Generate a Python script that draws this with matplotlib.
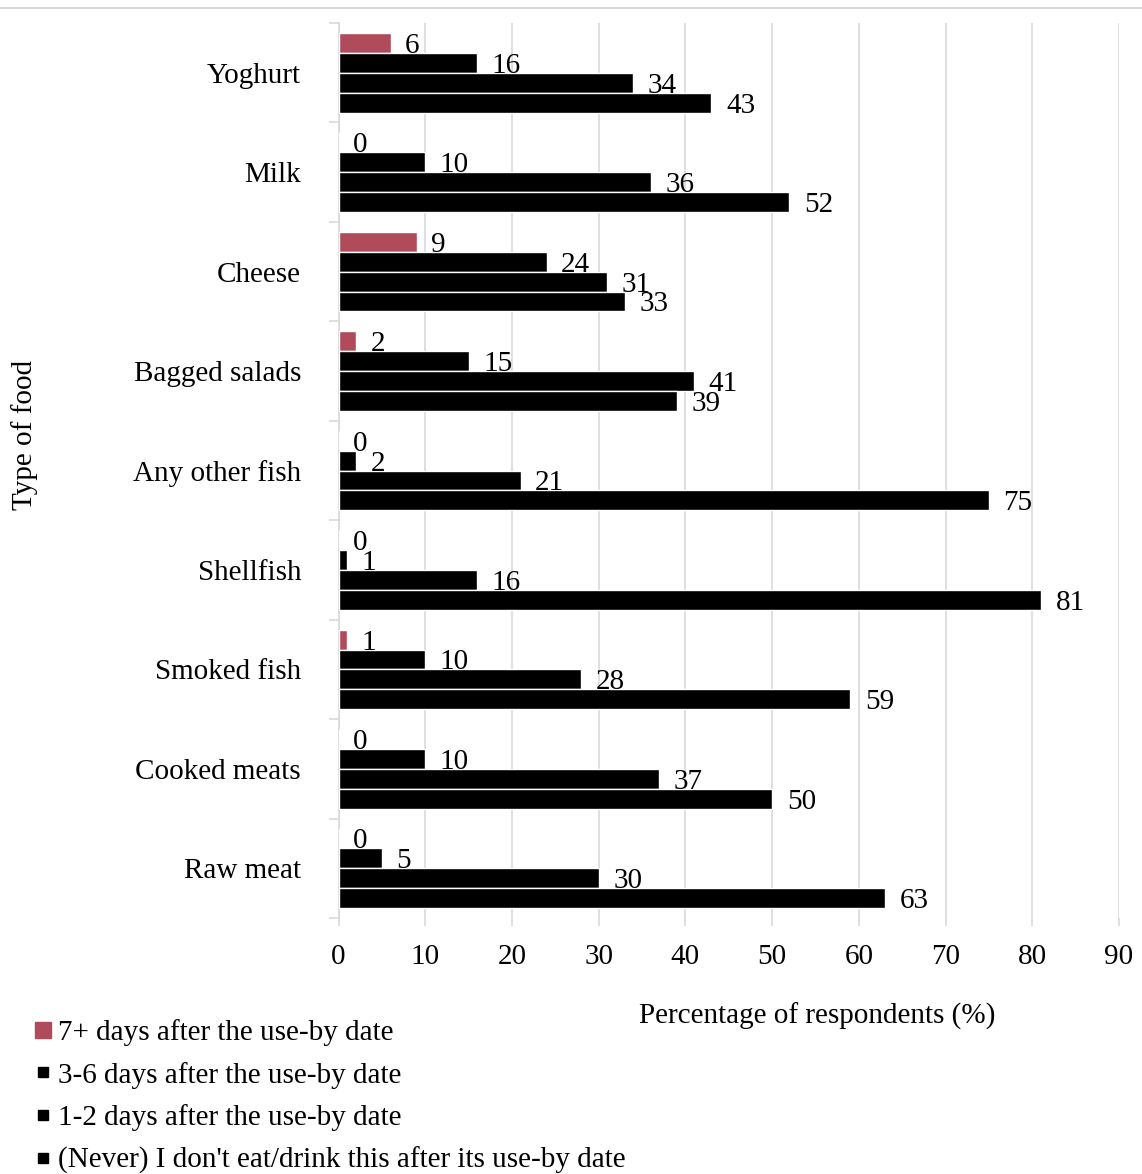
import matplotlib
matplotlib.use("Agg")
import matplotlib.pyplot as plt
from matplotlib.lines import Line2D
import numpy as np

plt.rcParams['font.family'] = ['Liberation Serif', 'DejaVu Serif']
plt.rcParams['font.size'] = 21

foods = ["Yoghurt", "Milk", "Cheese", "Bagged salads", "Any other fish",
         "Shellfish", "Smoked fish", "Cooked meats", "Raw meat"]

series_labels = ["7+ days after the use-by date",
                 "3-6 days after the use-by date",
                 "1-2 days after the use-by date",
                 "(Never) I don't eat/drink this after its use-by date"]

days_7plus = [6, 0, 9, 2, 0, 0, 1, 0, 0]
days_3to6 = [16, 10, 24, 15, 2, 1, 10, 10, 5]
days_1to2 = [34, 36, 31, 41, 21, 16, 28, 37, 30]
never = [43, 52, 33, 39, 75, 81, 59, 50, 63]

x_ticks = [0, 10, 20, 30, 40, 50, 60, 70, 80, 90]

series = [days_7plus, days_3to6, days_1to2, never]
colors = ["#B04B5B", "#000000", "#000000", "#000000"]
grid_col = "#D9D9D9"

W, H = 1142, 1174
fig = plt.figure(figsize=(W / 100, H / 100), dpi=100)
ax = fig.add_axes([338.5 / W, 1 - 918 / H, (1119 - 338.5) / W, (918 - 23) / H])

centers = np.arange(len(foods))
bar_h = 0.2
for j, (vals, col) in enumerate(zip(series, colors)):
    ypos = centers + (j - 1.5) * bar_h
    ax.barh(ypos, vals, height=bar_h, color=col, edgecolor="white",
            linewidth=1.0, zorder=3)
    for y, v in zip(ypos, vals):
        ax.annotate(str(v), xy=(v, y), xytext=(10.5, 0),
                    textcoords="offset points", ha="left",
                    va="center_baseline", fontsize=21, zorder=4)

ax.set_xlim(0, 90)
ax.set_ylim(len(foods) - 0.5, -0.5)
ax.set_xticks(x_ticks)
ax.set_xticklabels([str(t) for t in x_ticks])
ax.tick_params(axis="x", length=6, width=1.2, color=grid_col, pad=13)

ax.set_yticks(centers)
ax.set_yticklabels(foods)
ax.tick_params(axis="y", which="major", length=0, pad=27)
ax.set_yticks(np.arange(len(foods) + 1) - 0.5, minor=True)
ax.tick_params(axis="y", which="minor", length=7, width=1.2, color=grid_col)

ax.xaxis.grid(True, color=grid_col, linewidth=1.2, zorder=0)
ax.set_axisbelow(True)
for s in ["top", "right", "bottom"]:
    ax.spines[s].set_visible(False)
ax.spines["left"].set_color(grid_col)
ax.spines["left"].set_linewidth(1.2)

fig.text(817 / W, 1 - 1016 / H, "Percentage of respondents (%)",
         ha="center", va="center", fontsize=21)
fig.text(25 / W, 1 - 435 / H, "Type of food", rotation=90,
         ha="center", va="center", fontsize=21)

# thin rule along the top of the figure
fig.add_artist(Line2D([0, 1], [1 - 8 / H, 1 - 8 / H], color=grid_col,
                      linewidth=1.5, transform=fig.transFigure))

handles = [Line2D([], [], linestyle="none", marker="s", markersize=11,
                  markerfacecolor=colors[0], markeredgecolor=colors[0])]
handles += [Line2D([], [], linestyle="none", marker="s", markersize=7,
                   markerfacecolor="#000000", markeredgecolor="#000000")
            for _ in range(3)]
fig.legend(handles, series_labels, loc="upper left",
           bbox_to_anchor=(34 / W, 1 - 1019 / H), frameon=False,
           handlelength=0.6, handletextpad=0.22, labelspacing=0.54,
           borderaxespad=0, borderpad=0, fontsize=21)

fig.savefig("out.png", dpi=100)
